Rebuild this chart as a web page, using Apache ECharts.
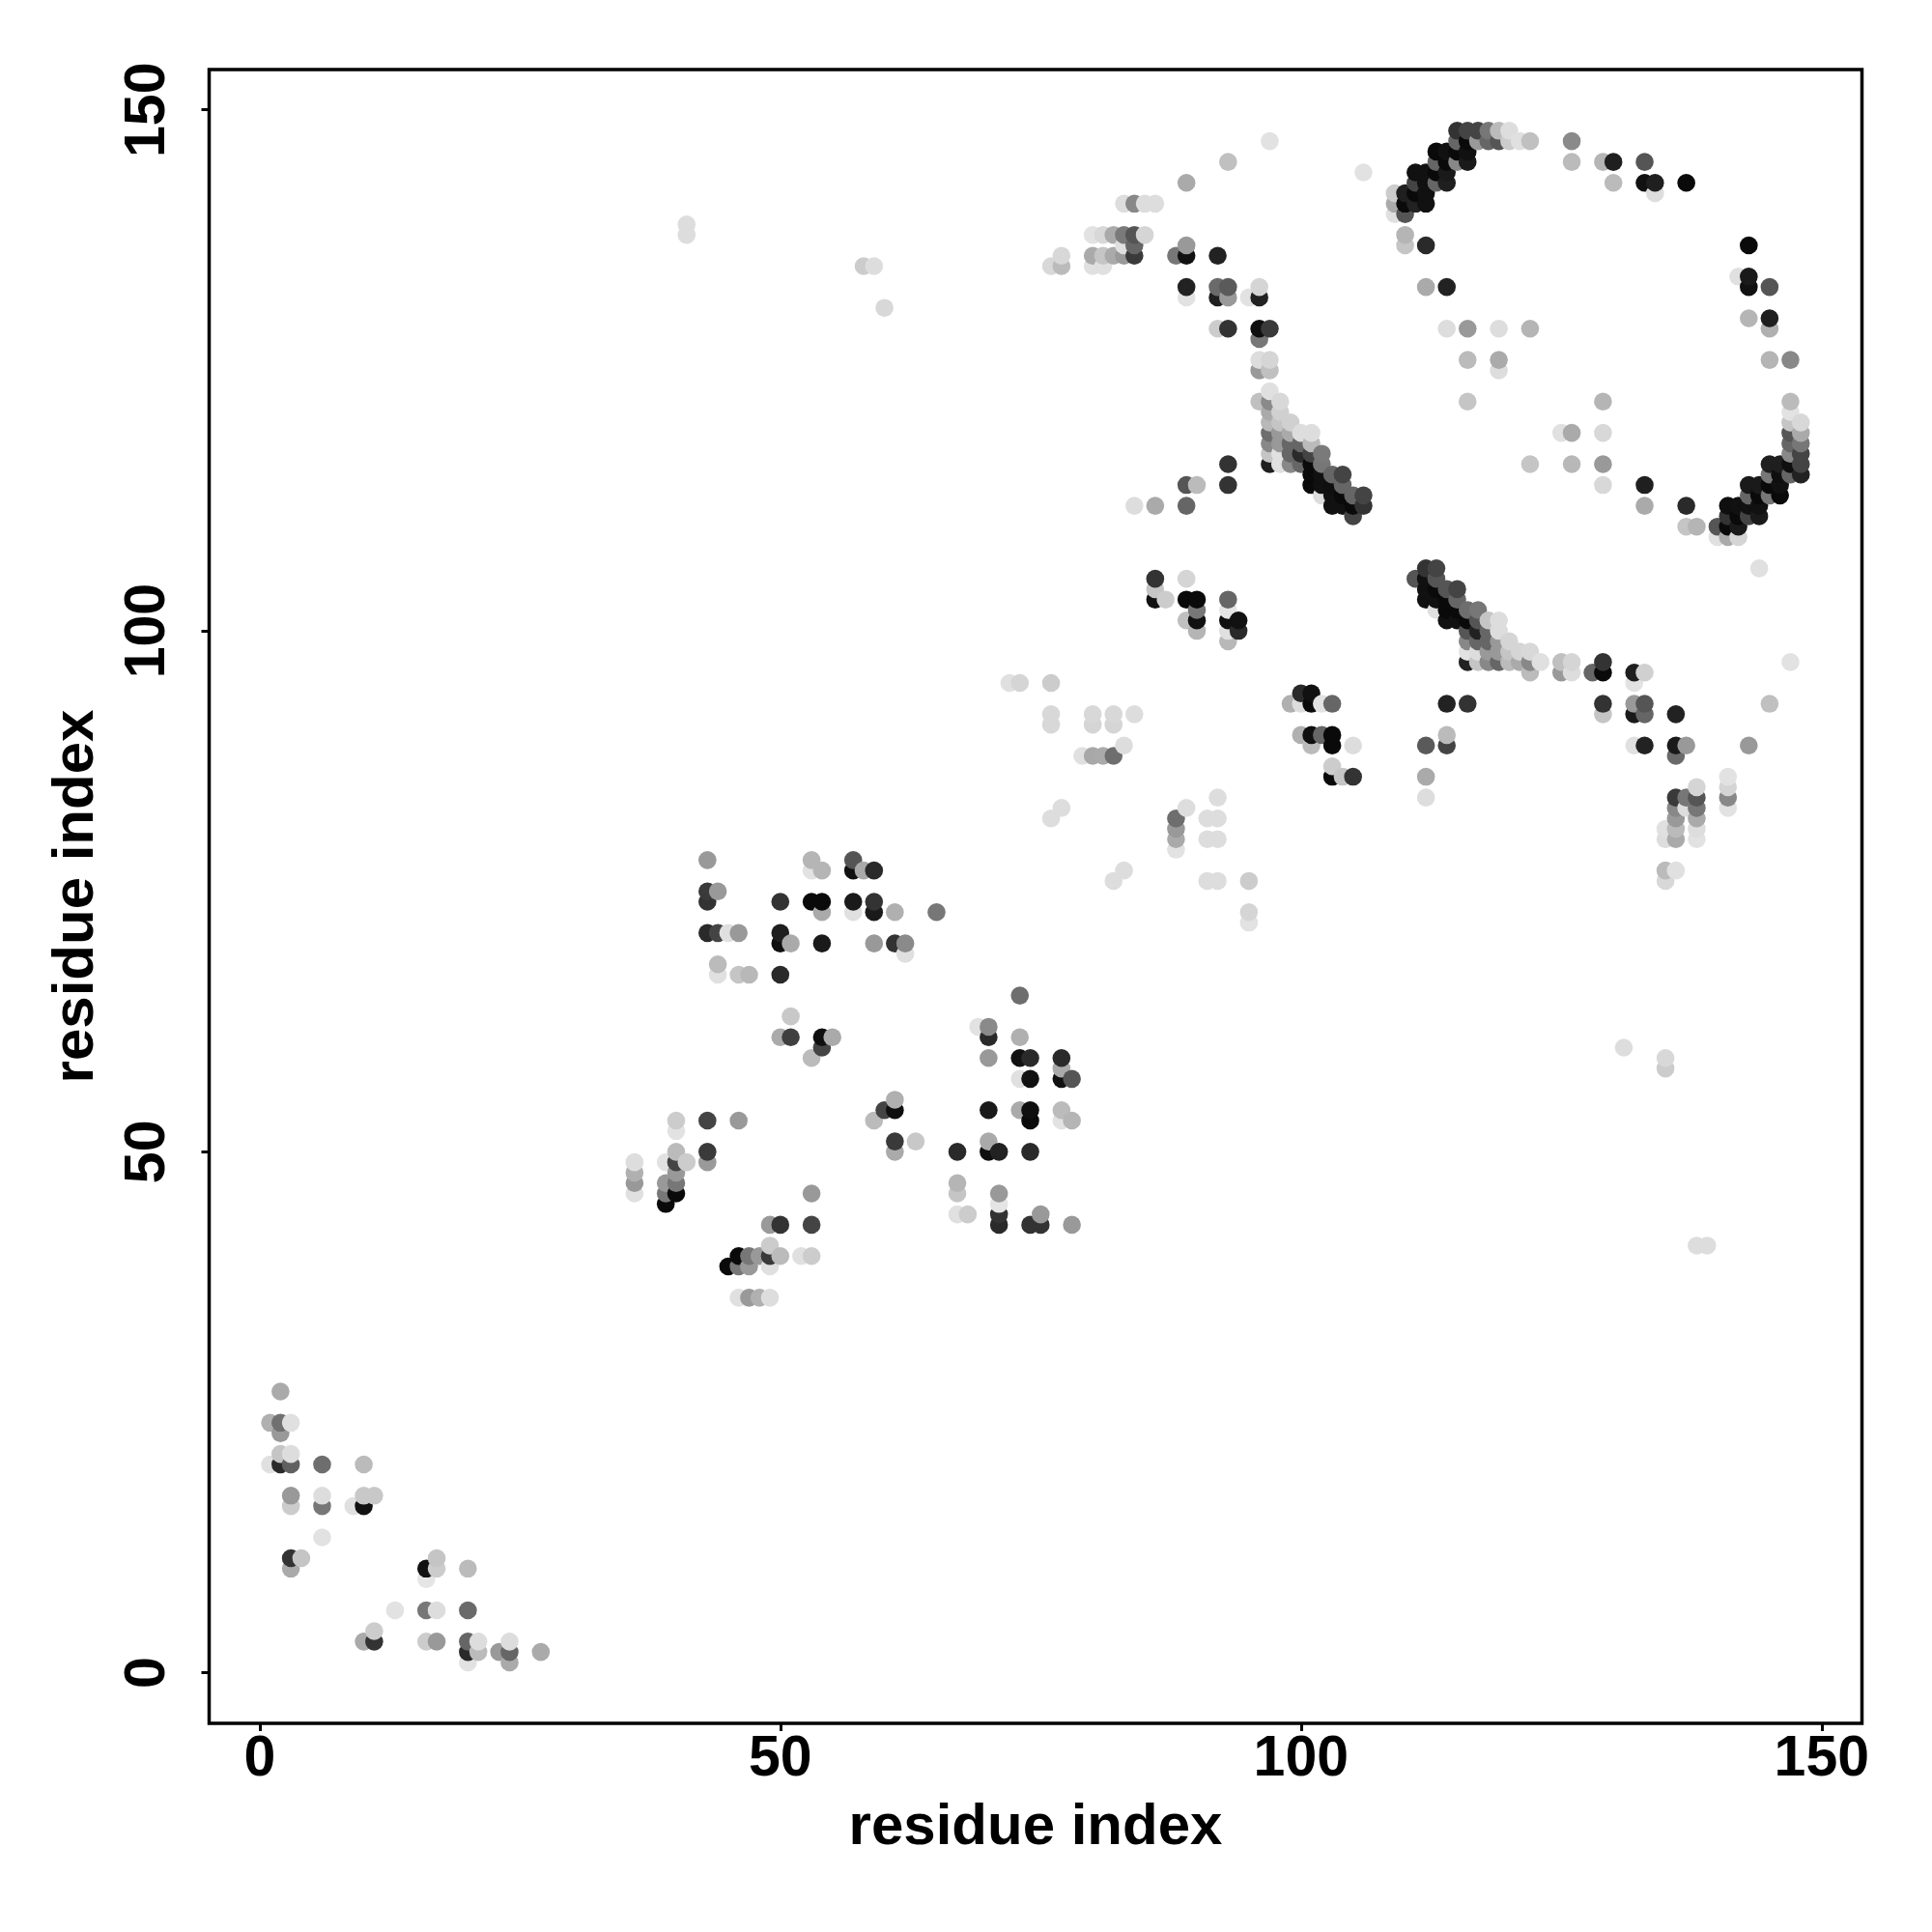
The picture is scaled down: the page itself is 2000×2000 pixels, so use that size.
<!DOCTYPE html>
<html><head><meta charset="utf-8">
<script src="https://cdn.jsdelivr.net/npm/echarts@6/dist/echarts.min.js"></script>
<style>html,body{margin:0;padding:0;background:#fff}#c{width:2000px;height:2000px}</style>
</head><body><div id="c"></div>
<script>
// each contact: [residue x, residue y, gray level]
const tickValues = [0, 50, 100, 150];
const axisTitle = 'residue index';
const contactsA = [
[2,27,0xaa],[1,24,0xb0],[2,24,0x70],[3,24,0xe0],[2,23,0x99],[1,20,0xe0],[2,20,0x2a],[3,20,0x60],[2,21,0xc5],[3,21,0xdd],
[6,20,0x6e],[10,20,0xbb],[3,17,0x99],[3,16,0xcc],[6,17,0xdd],[6,16,0x77],[10,17,0xc8],[11,17,0xc8],[9,16,0xe0],[10,16,0x11],
[6,13,0xe2],[3,11,0x33],[4,11,0xc5],[3,10,0xaa],[17,11,0xc5],[16,10,0x11],[17,10,0xcc],[16,9,0xe5],[20,10,0xbb],[13,6,0xe2],
[16,6,0x77],[17,6,0xdd],[20,6,0x6a],[11,4,0xcc],[10,3,0xaa],[11,3,0x33],[16,3,0xcc],[17,3,0x99],[20,3,0x66],[21,3,0xdd],
[20,2,0x2a],[21,2,0xbb],[23,2,0x99],[24,2,0x66],[24,3,0xdd],[20,1,0xe2],[24,1,0xaa],[27,2,0xaa]
];
const contactsB = [
[40,53,0xcc],[40,52,0xe2],[43,53,0x44],[46,53,0x99],[40,50,0xbb],[43,50,0x3a],[43,49,0x9a],[39,49,0xe2],[40,49,0x44],[41,49,0xcc],
[36,49,0xdd],[36,48,0xb0],[36,47,0x99],[36,46,0xe0],[40,48,0x99],[39,47,0x99],[40,47,0x77],[39,46,0x77],[40,46,0x0a],[39,45,0x0a],
[53,46,0x99],[49,43,0x99],[50,43,0x33],[53,43,0x44],[45,39,0x0a],[46,40,0x0a],[46,39,0x77],[47,40,0x77],[47,39,0x99],[48,40,0x99],
[49,41,0xcc],[49,40,0x3a],[49,39,0xe0],[50,40,0xbb],[52,40,0xe0],[53,40,0xcc],[46,36,0xe0],[47,36,0x99],[48,36,0xb0],[49,36,0xdd],
[61,55,0xb0],[60,54,0x44],[61,54,0x0f],[59,53,0xbb],[61,51,0x3a],[63,51,0xc8],[61,50,0xaa],[67,50,0x2a],[70,50,0x0f],[70,51,0xaa],
[71,50,0x22],[74,50,0x2a],[67,47,0xb5],[67,46,0xc5],[71,46,0x99],[71,45,0xe5],[71,44,0x33],[71,43,0x2a],[67,44,0xe0],[68,44,0xcc],
[74,43,0x33],[75,44,0x99],[75,43,0x33],[78,43,0x99],[70,54,0x1a],[73,54,0xaa],[74,54,0x0f],[74,53,0x0a],[77,54,0xbb],[77,53,0xe2],[78,53,0xb5]
];
const contactsC = [
[43,78,0x99],[43,75,0x3a],[44,75,0x99],[43,74,0x33],[50,74,0x33],[53,74,0x0a],[54,74,0x0a],[54,73,0xaa],[57,74,0x1a],[57,73,0xe0],
[59,74,0x33],[59,73,0x1a],[61,73,0xb0],[65,73,0x77],[53,78,0xb5],[53,77,0xe2],[54,77,0xb5],[57,78,0x55],[57,77,0x11],[58,77,0xaa],[59,77,0x2a],
[43,71,0x2a],[44,71,0x44],[45,71,0xe0],[46,71,0x99],[50,71,0x1f],[50,70,0x0f],[51,70,0xaa],[54,70,0x1a],[59,70,0x99],[61,70,0x33],[62,70,0x8a],[62,69,0xe0],
[44,68,0xbb],[44,67,0xe0],[46,67,0xc5],[47,67,0xb8],[50,67,0x2a],[51,63,0xc8],[50,61,0xaa],[51,61,0x3f],[54,61,0x0f],[55,61,0xaa],[54,60,0x44],[53,59,0xbb],
[73,65,0x6e],[69,62,0xe2],[70,62,0x8a],[70,61,0x2a],[73,61,0xb0],[70,59,0x99],[73,59,0x11],[74,59,0x2a],[77,59,0x2a],[77,58,0xaa],[73,57,0xe0],[74,57,0x11],[77,57,0x11],[78,57,0x55]
];
const contactsD = [
[72,95,0xe0],[73,95,0xd5],[76,95,0xcc],[76,92,0xd8],[76,91,0xd8],[80,92,0xd8],[80,91,0xd5],[82,92,0xd8],[82,91,0xd5],[84,92,0xdd],
[79,88,0xe0],[80,88,0xa8],[81,88,0xaa],[82,88,0x6e],[83,89,0xdd],[77,83,0xdd],[76,82,0xdd],[89,83,0xdd],[88,82,0x6e],[88,81,0x99],[88,80,0xaa],[88,79,0xe2],
[92,84,0xdd],[91,82,0xdd],[92,82,0xdd],[91,80,0xdd],[92,80,0xdd],[83,77,0xdd],[82,76,0xdd],[91,76,0xdd],[92,76,0xdd],[95,76,0xcc],[95,73,0xd5],[95,72,0xe2],
[99,93,0xb0],[100,94,0x2a],[100,93,0xdd],[101,94,0x11],[101,93,0x0a],[102,93,0xe2],[103,93,0x66],[100,90,0xb0],[101,90,0x0f],[101,89,0xbb],[102,90,0x66],
[103,90,0x0a],[103,89,0x0a],[105,89,0xdd],[103,87,0xcc],[103,86,0x0a],[104,86,0xc5],[105,86,0x33],
[86,105,0x33],[86,104,0xc5],[86,103,0x11],[87,103,0xcc],[89,105,0xd5],[89,103,0x0a],[90,103,0x0a],[89,101,0xc0],[90,102,0x77],[90,101,0x11],[90,100,0xb5],
[93,103,0x66],[93,102,0xe5],[93,101,0x0f],[94,101,0x11],[93,100,0xe0],[94,100,0x2a],[93,99,0xb8]
];
const contactsE = [
[80,138,0xe2],[81,138,0xd8],[82,138,0xaa],[83,138,0x7a],[84,138,0x55],[85,138,0xd5],[84,137,0x66],[83,137,0xe0],
[80,136,0xaa],[81,136,0xc5],[82,136,0xaa],[83,136,0x99],[84,136,0x3a],[77,136,0xd8],[77,135,0xbb],[76,135,0xd8],[80,135,0xe0],[81,135,0xe0],
[89,137,0x99],[88,136,0x77],[89,136,0x11],[92,136,0x22],[89,133,0x22],[89,132,0xe2],[92,133,0x6a],[93,133,0x5a],[92,132,0x1f],[93,132,0x99],
[95,132,0xe2],[96,133,0xd5],[96,132,0x22],[92,129,0xcc],[93,129,0x33],[96,129,0x0f],[97,129,0x3a],[96,128,0x77],[96,126,0xdd],[97,126,0xd5],[96,125,0x99],[97,125,0xc0],
[96,122,0xc0],[97,123,0xe0],[97,122,0x8a],[98,122,0xd8],[97,121,0xaa],[98,121,0xd0],[97,120,0xb8],[98,120,0xc5],[99,120,0xd0],
[97,119,0x6e],[98,119,0x99],[99,119,0xaa],[100,119,0xdd],[101,119,0xdd],[97,118,0x88],[98,118,0x99],[99,118,0x66],[100,118,0x66],[101,118,0xbb],
[97,117,0xc5],[98,117,0xe0],[99,117,0x66],[100,117,0x2a],[101,117,0x44],[102,117,0x7a],[97,116,0x1f],[98,116,0xe0],[99,116,0x88],[100,116,0x66],[101,116,0x0a],[102,116,0x77],
[101,115,0x0a],[102,115,0x11],[103,115,0x66],[104,115,0x44],[101,114,0x0a],[102,114,0x11],[103,114,0x0f],[104,114,0x66],[102,113,0xdd],[103,113,0x11],[104,113,0x0a],[105,113,0x66],[106,113,0x44],
[103,112,0x11],[104,112,0x11],[105,112,0x0a],[106,112,0x33],[105,111,0x44],
[93,116,0x33],[89,114,0x55],[90,114,0xbb],[93,114,0x33],[84,112,0xdd],[86,112,0xaa],[89,112,0x66]
];
const contactsF = [
[106,144,0xe2],[115,148,0x33],[116,148,0x44],[117,148,0x44],[118,148,0x77],[119,148,0xbb],[120,148,0xdd],
[115,147,0x66],[116,147,0x0a],[117,147,0x99],[118,147,0x66],[119,147,0x55],[120,147,0xcc],[121,147,0xe0],[122,147,0xc0],[126,147,0x8a],
[113,146,0x0a],[114,146,0x11],[115,146,0x0a],[116,146,0x11],[113,145,0x66],[114,145,0x0a],[115,145,0x88],[116,145,0x1a],
[126,145,0xbb],[129,145,0xb5],[130,145,0x1f],[133,145,0x55],[111,144,0x11],[112,144,0x11],[113,144,0x0a],[114,144,0x1a],
[111,143,0x44],[112,143,0x11],[113,143,0x66],[114,143,0x1f],[130,143,0xbb],[133,143,0x11],[134,143,0x1f],[137,143,0x0a],[134,142,0xdd],
[109,142,0xcc],[110,142,0x1f],[111,142,0x0a],[112,142,0x11],[109,141,0xaa],[110,141,0x0a],[111,141,0x22],[112,141,0x11],[109,140,0xe0],[110,140,0x55],
[110,138,0xb5],[110,137,0xc5],[112,137,0x2a],[112,133,0xaa],[114,133,0x22],[114,129,0xdd],[116,129,0x99],[119,129,0xdd],[122,129,0xb5],
[116,126,0xbb],[119,126,0xaa],[119,125,0xdd],[143,137,0x0a],[142,134,0xe0],[143,134,0x1a],[143,133,0x11],[145,133,0x55],[143,130,0xb5],[145,130,0x1f],[145,129,0xb0],[145,126,0xb5],[147,126,0x88]
];
const contactsG = [
[116,122,0xc5],[129,122,0xb5],[125,119,0xe0],[126,119,0xaa],[129,119,0xd8],[122,116,0xc5],[126,116,0xb8],[129,116,0x99],[129,114,0xd8],[133,114,0x1f],[133,112,0xaa],
[137,112,0x2a],[137,110,0xc5],[138,110,0xb5],[140,110,0x55],[140,109,0xe0],[141,112,0x0f],[141,111,0x33],[141,110,0x0a],[141,109,0xaa],
[142,112,0x11],[142,111,0x0a],[142,110,0x1a],[142,109,0xd5],[143,114,0x1a],[143,113,0x66],[143,112,0x11],[143,111,0x44],[144,114,0x1a],[144,113,0x0a],[144,112,0x11],[144,111,0x1a],
[145,116,0x1f],[145,115,0x77],[145,114,0x0a],[145,113,0x77],[146,116,0x1f],[146,115,0x0f],[146,114,0x11],[146,113,0x0a],
[147,122,0xbb],[147,121,0xe2],[147,120,0xc5],[147,119,0x55],[147,118,0x66],[147,117,0x88],[147,116,0x0f],[147,115,0x66],
[148,120,0xd8],[148,119,0xaa],[148,118,0x77],[148,117,0x44],[148,116,0x44],[148,115,0x22]
];
const contactsH = [
[144,106,0xe0],[147,97,0xe2],[145,93,0xc0],[143,89,0x99],[111,105,0x55],[112,106,0x33],[113,106,0x44],[112,105,0x11],[113,105,0x55],
[112,104,0x11],[113,104,0x0a],[114,104,0x55],[115,104,0x44],[112,103,0x11],[113,103,0x11],[114,103,0x0a],[115,103,0x66],
[113,102,0xe0],[114,102,0x0a],[115,102,0x0a],[116,102,0x6e],[117,102,0x77],[114,101,0x11],[115,101,0x11],[116,101,0x0a],[117,101,0x55],[118,101,0xc5],[119,101,0xdd],
[116,100,0x55],[117,100,0x22],[118,100,0x66],[119,100,0xdd],[116,99,0x88],[117,99,0x66],[118,99,0x66],[119,99,0x99],[120,99,0xd5],
[116,98,0xe2],[117,98,0xdd],[118,98,0x99],[119,98,0x99],[120,98,0xc5],[121,98,0xd5],[122,98,0xd8],
[116,97,0x22],[117,97,0xc5],[118,97,0x88],[119,97,0x66],[120,97,0xbb],[121,97,0xaa],[122,97,0x88],[123,97,0xe0],[122,96,0xbb],
[125,97,0xc0],[126,97,0xd5],[125,96,0x99],[126,96,0xdd],[128,96,0x66],[129,97,0x33],[129,96,0x0a],[132,96,0x1f],[133,96,0xd0],[132,95,0xe2],
[114,93,0x22],[116,93,0x33],[129,93,0x33],[129,92,0xc5],[132,93,0x99],[133,93,0x55],[132,92,0x1a],[133,92,0x66],[136,92,0x22],
[114,90,0xbb],[112,89,0x5a],[114,89,0x44],[132,89,0xe0],[133,89,0x22],[136,89,0x1a],[137,89,0x99],[136,88,0x6a],[112,86,0xaa],[112,84,0xdd],
[141,86,0xe2],[141,85,0xd5],[141,84,0x88],[141,83,0xe2],[138,85,0xd5],[136,84,0x3a],[137,84,0x77],[138,84,0x55],[136,83,0x88],[137,83,0xdd],[138,83,0x77],
[136,82,0x99],[138,82,0xaa],[135,81,0xe0],[136,81,0xbb],[138,81,0xdd],[135,80,0xdd],[136,80,0xaa],[138,80,0xe2],[135,77,0xbb],[136,77,0xe0],[135,76,0xd8]
];
const contactsI = [
[131,60,0xdd],[135,59,0xd8],[135,58,0xcc],[138,41,0xdd],[139,41,0xdd],[41,139,0xdd],[41,138,0xdd],[58,135,0xcc],[59,135,0xdd],[60,131,0xd8],
[97,147,0xe2],[93,145,0xc0],[89,143,0xaa],[83,141,0xdd],[84,141,0x88],[85,141,0xdd],[86,141,0xdd]
];

const contacts = [].concat(contactsA, contactsB, contactsC, contactsD, contactsE, contactsF, contactsG, contactsH, contactsI)
  .sort((p, q) => p[0] - q[0] || p[1] - q[1]);

const black = '#000';
const labelFont = { color: black, fontFamily: '"Liberation Sans"', fontWeight: 'bold', fontSize: 59 };
const titleFont = { color: black, fontFamily: '"Liberation Sans"', fontWeight: 'bold', fontSize: 60 };
function axis(extra) {
  return Object.assign({
    type: 'value', min: -4.85, max: 153.87, splitLine: { show: false }, splitArea: { show: false },
    axisLine: { show: false, onZero: false },
    axisTick: { show: true, length: 8, inside: false, lineStyle: { color: black, width: 3 }, customValues: tickValues },
    name: axisTitle, nameLocation: 'middle',
    nameTextStyle: titleFont
  }, extra);
}
const chart = echarts.init(document.getElementById('c'), null, { renderer: 'canvas' });
chart.setOption({
  animation: false,
  backgroundColor: '#fff',
  grid: { show: true, left: 216.5, right: 72.5, top: 72, bottom: 216, borderColor: black, borderWidth: 3.5, backgroundColor: 'transparent' },
  xAxis: axis({ nameGap: 78, axisLabel: Object.assign({ margin: 8, customValues: tickValues, hideOverlap: false, showMinLabel: true, showMaxLabel: true }, labelFont) }),
  yAxis: axis({ nameGap: 107, axisLabel: Object.assign({ rotate: 90, margin: 33, customValues: tickValues, hideOverlap: false, showMinLabel: true, showMaxLabel: true }, labelFont) }),
  series: [{
    type: 'scatter', silent: true, symbol: 'circle', symbolSize: 18.6, clip: false,
    itemStyle: { opacity: 1 },
    data: contacts.map(c => ({ value: [c[0], c[1]], itemStyle: { opacity: 1, color: 'rgb(' + c[2] + ',' + c[2] + ',' + c[2] + ')' } }))
  }]
});
</script></body></html>
